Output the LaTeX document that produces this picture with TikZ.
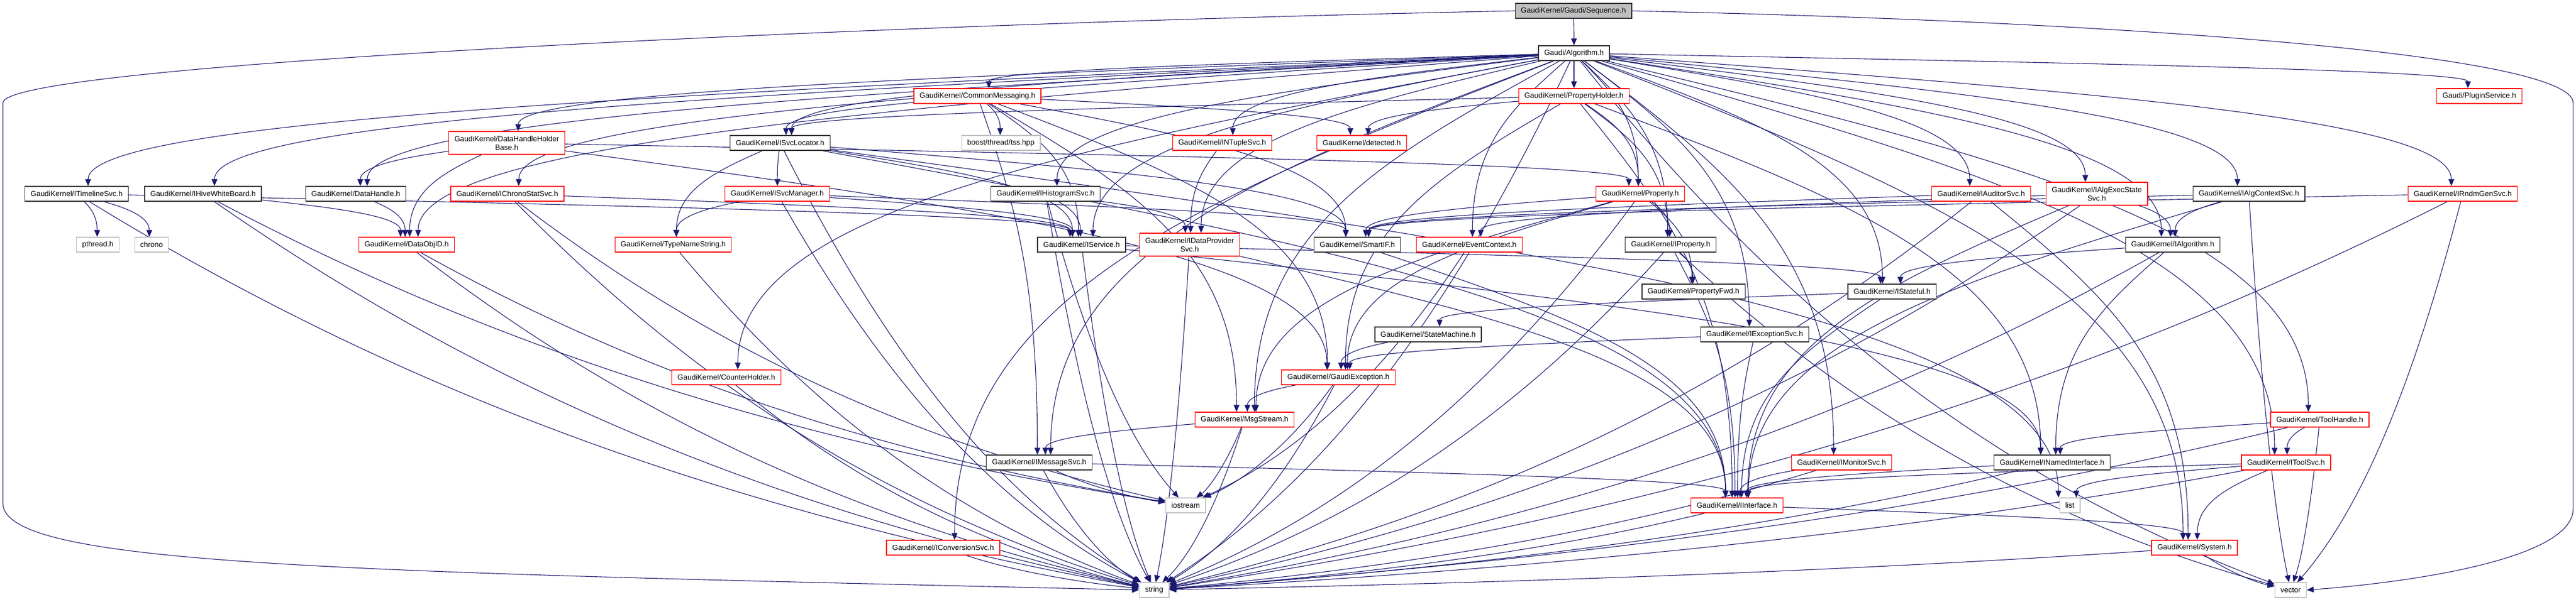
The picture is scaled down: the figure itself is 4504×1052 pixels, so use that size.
\documentclass[tikz,border=0pt]{standalone}
\usepackage{fontspec}
\setmainfont{Liberation Sans}
\usetikzlibrary{arrows.meta,calc,backgrounds}
\definecolor{edgeblue}{RGB}{25,25,112}
\definecolor{boxgray}{RGB}{191,191,191}
\newcommand\dep[2]{%
  \draw[depline] let \p1=(#1), \p2=(#2.north),
    \n1={0.6*(\x2-\x1)}, \n2={0.3*(\y1-\y2)},
    \n3={0.5*(\y1-\y2)},
    \n4={max(-20,min(20,0.03*(\x1-\x2)))} in
    (#1) .. controls ($(\p1)+(\n1,-\n2)$) and ($(\p2)+(\n4,\n3)$) .. ($(\p2)+(\n4,0pt)$);}
\newcommand\depleaf[2]{%
  \draw[depline] let \p1=(#1), \p2=(#2),
    \n1={0.3*(\x2-\x1)}, \n2={0.5*(\y1-\y2)},
    \n3={0.4*(\x1-\x2)}, \n4={0.2*(\y1-\y2)} in
    (#1) .. controls ($(\p1)+(\n1,-\n2)$) and ($(\p2)+(\n3,\n4)$) .. (#2);}
\begin{document}
\begin{tikzpicture}[x=1pt,y=1pt,
    hdr/.style={draw=black!80,line width=1.4pt,fill=white,inner xsep=10pt,inner ysep=2pt,
      minimum height=26pt,font=\fontsize{13}{15}\selectfont},
    redhdr/.style={hdr,draw=red},
    syshdr/.style={hdr,draw=boxgray,line width=1.2pt},
    tophdr/.style={hdr,fill=boxgray},
    twoline/.style={minimum height=40pt,align=center},
    depline/.style={draw=edgeblue,line width=1.1pt,-{Triangle[length=12pt,width=10pt]}}]
\useasboundingbox (0,0) rectangle (4504,-1052);

\node[tophdr] (seq) at (2751,-19) {GaudiKernel/Gaudi/Sequence.h};
\node[hdr] (alg) at (2752,-93) {Gaudi/Algorithm.h};
\node[redhdr] (cmsg) at (1709,-168) {GaudiKernel/CommonMessaging.h};
\node[redhdr] (pholder) at (2752,-168) {GaudiKernel/PropertyHolder.h};
\node[redhdr] (plugin) at (4335,-168) {Gaudi/PluginService.h};
\node[redhdr,twoline] (dhhb) at (886,-250) {GaudiKernel/DataHandleHolder\\Base.h};
\node[hdr] (svcloc) at (1364,-250) {GaudiKernel/ISvcLocator.h};
\node[syshdr] (tss) at (1750,-250) {boost/thread/tss.hpp};
\node[redhdr] (ntuple) at (2137,-250) {GaudiKernel/INTupleSvc.h};
\node[redhdr] (detected) at (2381,-250) {GaudiKernel/detected.h};
\node[hdr] (timeline) at (134,-339) {GaudiKernel/ITimelineSvc.h};
\node[hdr] (hive) at (355,-339) {GaudiKernel/IHiveWhiteBoard.h};
\node[hdr] (dhandle) at (622,-339) {GaudiKernel/DataHandle.h};
\node[redhdr] (chronosvc) at (887,-339) {GaudiKernel/IChronoStatSvc.h};
\node[redhdr] (svcmgr) at (1359,-339) {GaudiKernel/ISvcManager.h};
\node[hdr] (histo) at (1828,-339) {GaudiKernel/IHistogramSvc.h};
\node[redhdr] (prop) at (2868,-339) {GaudiKernel/Property.h};
\node[redhdr] (auditor) at (3464,-339) {GaudiKernel/IAuditorSvc.h};
\node[redhdr,twoline] (execstate) at (3666,-339) {GaudiKernel/IAlgExecState\\Svc.h};
\node[hdr] (algctx) at (3932,-339) {GaudiKernel/IAlgContextSvc.h};
\node[redhdr] (rndm) at (4306,-339) {GaudiKernel/IRndmGenSvc.h};
\node[syshdr] (pthread) at (171,-428) {pthread.h};
\node[syshdr] (chrono) at (265,-428) {chrono};
\node[redhdr] (objid) at (711,-428) {GaudiKernel/DataObjID.h};
\node[redhdr] (tns) at (1177,-428) {GaudiKernel/TypeNameString.h};
\node[hdr] (isvc) at (1891,-428) {GaudiKernel/IService.h};
\node[redhdr,twoline] (dps) at (2080,-428) {GaudiKernel/IDataProvider\\Svc.h};
\node[hdr] (smartif) at (2373,-428) {GaudiKernel/SmartIF.h};
\node[redhdr] (evctx) at (2569,-428) {GaudiKernel/EventContext.h};
\node[hdr] (iprop) at (2921,-428) {GaudiKernel/IProperty.h};
\node[hdr] (ialg) at (3799,-428) {GaudiKernel/IAlgorithm.h};
\node[hdr] (pfwd) at (2961,-510) {GaudiKernel/PropertyFwd.h};
\node[hdr] (stateful) at (3308,-510) {GaudiKernel/IStateful.h};
\node[hdr] (sm) at (2497,-585) {GaudiKernel/StateMachine.h};
\node[hdr] (excsvc) at (3068,-585) {GaudiKernel/IExceptionSvc.h};
\node[redhdr] (counter) at (1270,-660) {GaudiKernel/CounterHolder.h};
\node[redhdr] (gexc) at (2340,-660) {GaudiKernel/GaudiException.h};
\node[redhdr] (msgstream) at (2176,-734) {GaudiKernel/MsgStream.h};
\node[redhdr] (toolh) at (4056,-734) {GaudiKernel/ToolHandle.h};
\node[hdr] (msgsvc) at (1817,-809) {GaudiKernel/IMessageSvc.h};
\node[redhdr] (monitor) at (3220,-809) {GaudiKernel/IMonitorSvc.h};
\node[hdr] (named) at (3588,-809) {GaudiKernel/INamedInterface.h};
\node[redhdr] (toolsvc) at (3997,-809) {GaudiKernel/IToolSvc.h};
\node[syshdr] (iostream) at (2073,-884) {iostream};
\node[redhdr] (iface) at (3037,-884) {GaudiKernel/IInterface.h};
\node[syshdr] (list) at (3619,-884) {list};
\node[redhdr] (conv) at (1649,-958) {GaudiKernel/IConversionSvc.h};
\node[redhdr] (system) at (3837,-958) {GaudiKernel/System.h};
\node[syshdr] (string) at (2018,-1032) {string};
\node[syshdr] (vector) at (4005,-1032) {vector};

\begin{scope}[on background layer]
\fill[white] (0,0) rectangle (4504,-1052);
\draw[depline] (seq.west) .. controls (1600,-40) and (5,-110) .. (5,-180) -- (5,-880) .. controls (5,-990) and (600,-1000) .. (string.west);
\draw[depline] (seq.east) .. controls (3800,-40) and (4499,-100) .. (4499,-180) -- (4499,-890) .. controls (4499,-980) and (4200,-1020) .. (vector.east);
\foreach \a/\b in {seq/alg,
    alg/timeline,alg/hive,alg/dhandle,alg/objid,alg/dhhb,alg/chronosvc,alg/svcloc,alg/cmsg,alg/histo,
    alg/isvc,alg/dps,alg/ntuple,alg/pholder,alg/prop,alg/iprop,alg/evctx,alg/auditor,alg/execstate,
    alg/algctx,alg/ialg,alg/rndm,alg/plugin,alg/stateful,alg/excsvc,alg/monitor,alg/toolh,alg/toolsvc,
    alg/system,alg/counter,alg/conv,alg/msgsvc,alg/msgstream,
    cmsg/svcloc,cmsg/tss,cmsg/isvc,cmsg/smartif,cmsg/detected,cmsg/msgsvc,cmsg/msgstream,cmsg/gexc,
    pholder/detected,pholder/prop,pholder/iprop,pholder/svcloc,pholder/named,pholder/gexc,pholder/iface,
    dhhb/dhandle,dhhb/objid,dhhb/prop,dhhb/gexc,
    svcloc/svcmgr,svcloc/tns,svcloc/isvc,svcloc/smartif,svcloc/iface,svcloc/list,
    ntuple/dps,timeline/pthread,timeline/chrono,timeline/isvc,hive/objid,dhandle/objid,chronosvc/isvc,
    svcmgr/tns,svcmgr/isvc,svcmgr/smartif,histo/isvc,histo/dps,
    prop/iprop,prop/pfwd,prop/smartif,prop/gexc,prop/msgstream,
    auditor/smartif,auditor/system,execstate/evctx,execstate/iface,execstate/ialg,
    algctx/smartif,algctx/ialg,algctx/iface,rndm/smartif,
    isvc/stateful,isvc/named,dps/iface,smartif/iface,iprop/pfwd,iprop/iface,
    ialg/stateful,ialg/named,stateful/iface,stateful/sm,sm/gexc,excsvc/gexc,excsvc/iface,
    gexc/msgstream,msgstream/msgsvc,toolh/named,toolh/toolsvc,msgsvc/iface,monitor/iface,
    named/iface,toolsvc/iface,toolsvc/system,toolsvc/list,iface/system}
  {\dep{\a}{\b}}
\foreach \a/\b in {alg/string,alg/vector,timeline/string,hive/iostream,hive/string,
    chronosvc/string,chronosvc/iostream,svcloc/string,svcmgr/string,histo/string,histo/iostream,
    prop/string,auditor/string,execstate/string,algctx/vector,rndm/string,rndm/vector,
    objid/iostream,objid/string,tns/string,isvc/string,dps/string,evctx/iostream,iprop/string,
    iprop/vector,ialg/string,counter/string,gexc/iostream,gexc/string,msgstream/string,
    msgstream/iostream,toolh/string,toolh/vector,msgsvc/iostream,msgsvc/string,monitor/string,
    named/string,toolsvc/string,iface/string,conv/string,system/vector,system/string}
  {\depleaf{\a}{\b}}
\end{scope}
\end{tikzpicture}
\end{document}
